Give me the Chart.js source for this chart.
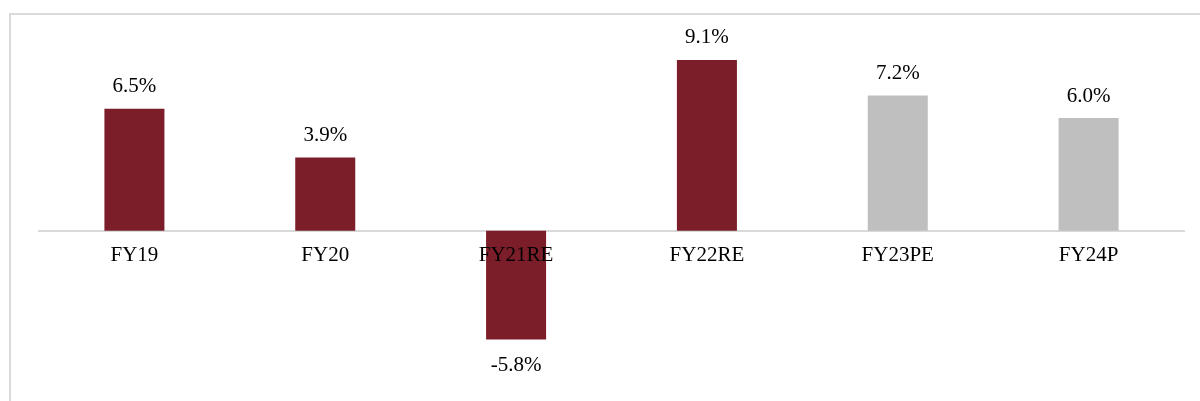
<!DOCTYPE html>
<html>
<head>
<meta charset="utf-8">
<script src="https://cdn.jsdelivr.net/npm/chart.js@4.4.1/dist/chart.umd.min.js"></script>
<style>
  html, body { margin: 0; padding: 0; background: #ffffff; }
  #wrap { position: relative; width: 1200px; height: 401px; overflow: hidden; }
  #frame { position: absolute; left: 9px; top: 13px; width: 1200px; height: 400px;
           border-top: 2px solid #d9d9d9; border-left: 2px solid #d9d9d9; pointer-events: none; }
  canvas { position: absolute; left: 0; top: 0; }
</style>
</head>
<body>
<div id="wrap">
  <canvas id="c" width="1200" height="401"></canvas>
  <div id="frame"></div>
</div>
<script>
const categories = ['FY19', 'FY20', 'FY21RE', 'FY22RE', 'FY23PE', 'FY24P'];
const growthValues = [6.5, 3.9, -5.8, 9.1, 7.2, 6.0];
const isProjection = [false, false, false, false, true, true];

const ACTUAL_COLOR = '#7b1e29';
const PROJ_COLOR = '#bfbfbf';
const FONT_FAMILY = '"Liberation Serif", "Times New Roman", serif';

const valueLabels = {
  id: 'valueLabels',
  afterDatasetsDraw(chart) {
    const ctx = chart.ctx;
    const meta = chart.getDatasetMeta(0);
    ctx.save();
    ctx.font = '21px ' + FONT_FAMILY;
    ctx.fillStyle = '#000000';
    ctx.textAlign = 'center';
    ctx.textBaseline = 'middle';
    meta.data.forEach((bar, i) => {
      const v = chart.data.datasets[0].data[i];
      const txt = v.toFixed(1) + '%';
      const y = v >= 0 ? bar.y - 22 : bar.y + 26;
      ctx.fillText(txt, bar.x, y);
    });
    ctx.restore();
  }
};

new Chart(document.getElementById('c'), {
  type: 'bar',
  data: {
    labels: categories,
    datasets: [{
      data: growthValues,
      backgroundColor: isProjection.map(p => p ? PROJ_COLOR : ACTUAL_COLOR),
      borderWidth: 0,
      categoryPercentage: 1.0,
      barPercentage: 0.3145
    }]
  },
  options: {
    responsive: false,
    animation: false,
    devicePixelRatio: 1,
    layout: { padding: { left: 39, right: 16, top: 5.5, bottom: 1.4 } },
    plugins: {
      legend: { display: false },
      tooltip: { enabled: false },
      title: { display: false }
    },
    scales: {
      x: {
        position: { y: 0 },
        grid: { display: false, drawTicks: false },
        border: { display: true, color: '#d9d9d9', width: 2, z: -1 },
        ticks: {
          z: 1,
          padding: 12,
          color: '#000000',
          font: { family: FONT_FAMILY, size: 21 },
          maxRotation: 0,
          autoSkip: false
        }
      },
      y: {
        display: false,
        min: -9,
        max: 12
      }
    }
  },
  plugins: [valueLabels]
});
</script>
</body>
</html>
